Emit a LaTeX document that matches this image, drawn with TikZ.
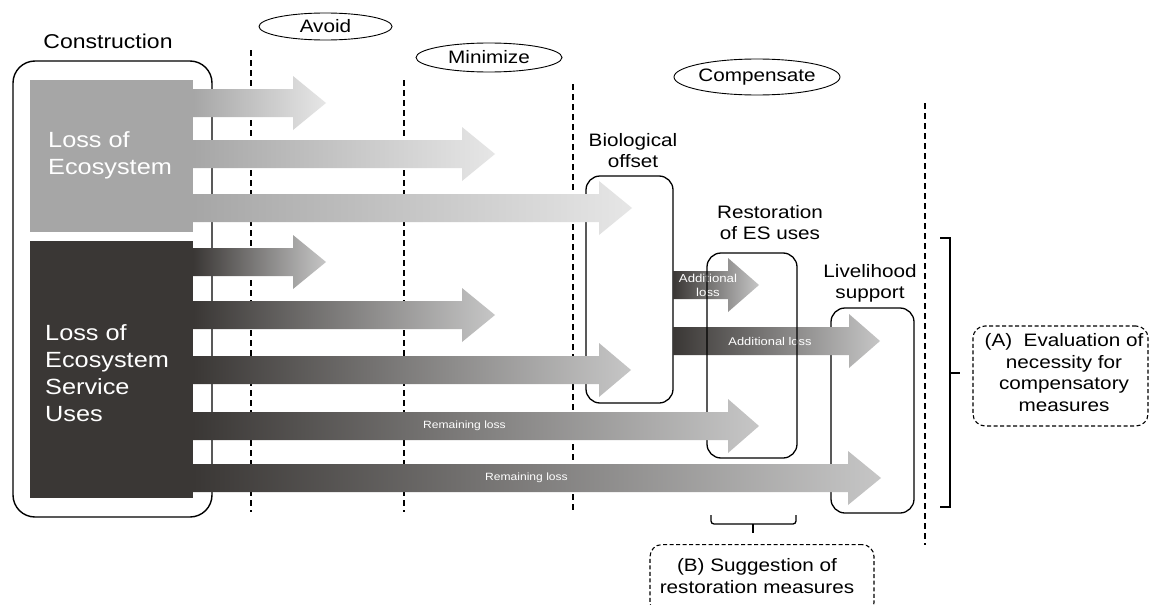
\documentclass[tikz,border=0pt]{standalone}
\usepackage{fontspec}
\setmainfont{Liberation Sans}[FakeStretch=1.15]
\usetikzlibrary{shapes.geometric}
\definecolor{lgray}{HTML}{A6A6A6}
\definecolor{lgrayend}{HTML}{E6E6E6}
\definecolor{dgray}{HTML}{3A3735}
\definecolor{dgrayend}{HTML}{C6C6C6}
\newcommand\flowarrow[5]{%
  \shade[#5] (#1,#4-14) -- (#2,#4-14) -- (#2,#4-27) -- (#3,#4) -- (#2,#4+27) -- (#2,#4+14) -- (#1,#4+14) -- cycle;}
\tikzset{
  lightarr/.style={left color=lgray, right color=lgrayend},
  darkarr/.style={left color=dgray, right color=dgrayend},
  lbl/.style={font=\fontsize{18}{21.5}\selectfont, align=center, inner sep=0pt},
  bigwhite/.style={font=\fontsize{22}{27}\selectfont, align=left, text=white, inner sep=0pt},
  smallwhite/.style={font=\fontsize{10.5}{13}\selectfont, align=center, text=white, inner sep=0pt},
  phase/.style={draw, ellipse, line width=0.9pt, inner sep=0pt, font=\fontsize{18}{21.5}\selectfont},
  rbox/.style={draw, line width=1.3pt, rounded corners=14pt},
  divider/.style={line width=1.5pt, dash pattern=on 6pt off 4pt},
  dbox/.style={draw, line width=1.1pt, dash pattern=on 4pt off 2.5pt, rounded corners=12pt},
  brack/.style={line width=1.3pt}
}
\begin{document}
\begin{tikzpicture}[x=1pt,y=-1pt]
\useasboundingbox (0,0) rectangle (1149,605);
\clip (0,0) rectangle (1149,605);
\fill[white] (0,0) rectangle (1149,605);

% construction frame
\draw[line width=1.4pt, rounded corners=22pt] (13,61) rectangle (212,517);
\node[font=\fontsize{20}{24}\selectfont, anchor=base, inner sep=0pt] (construction) at (108,48) {Construction};

% dashed dividers
\coordinate (d1t) at (251,50);  \coordinate (d1b) at (251,512);
\coordinate (d2t) at (404,80);  \coordinate (d2b) at (404,512);
\coordinate (d3t) at (573,84);  \coordinate (d3b) at (573,512);
\coordinate (d4t) at (925,103); \coordinate (d4b) at (925,545);
\draw[divider] (d1t) -- (d1b);
\draw[divider] (d2t) -- (d2b);
\draw[divider] (d3t) -- (d3b);
\draw[divider] (d4t) -- (d4b);

% phase labels
\node[phase, minimum width=133pt, minimum height=27pt] (avoid) at (325.5,26.5) {Avoid};
\node[phase, minimum width=146pt, minimum height=29pt] (minimize) at (489,57.5) {Minimize};
\node[phase, minimum width=144pt, minimum height=36pt] (compensate) at (757,77) {Compensate};

% loss blocks
\fill[lgray] (30,80) rectangle (193,232);
\fill[dgray] (30,241) rectangle (193,498);
\node[bigwhite, anchor=west] (lossEco) at (48,155) {Loss of\\Ecosystem};
\node[bigwhite, anchor=west] (lossES) at (45,373) {Loss of\\Ecosystem\\Service\\Uses};

% compensation boxes
\draw[rbox] (586,176) rectangle (673,403);
\node[lbl] (bio) at (633,150.5) {Biological\\offset};
\draw[rbox] (831,308) rectangle (914,513);
\node[lbl] (liv) at (870,283.4) {Livelihood\\support};

% additional loss arrows
\flowarrow{673}{728}{759}{285}{darkarr}
\node[smallwhite, font=\fontsize{11.5}{14}\selectfont] (add1) at (708,285) {Additional\\loss};
\flowarrow{673}{849}{880}{341}{darkarr}
\node[smallwhite, font=\fontsize{11.2}{13}\selectfont] (add2) at (770,341) {Additional loss};

\draw[rbox] (707,253) rectangle (797,458);
\node[lbl] (rest) at (770,222.5) {Restoration\\of ES uses};

% ecosystem loss arrows
\flowarrow{193}{293}{326}{103}{lightarr}
\flowarrow{193}{462}{495}{154}{lightarr}
\flowarrow{193}{599}{632}{208}{lightarr}
% ES use loss arrows
\flowarrow{193}{293}{326}{262}{darkarr}
\flowarrow{193}{462}{495}{315}{darkarr}
\flowarrow{193}{599}{631}{370}{darkarr}
\flowarrow{193}{728}{759}{426}{darkarr}
\node[smallwhite, anchor=west] (rem1) at (423,426) {Remaining loss};
\flowarrow{193}{848}{881}{478}{darkarr}
\node[smallwhite, anchor=west] (rem2) at (485,478) {Remaining loss};

% bracket A
\draw[brack] (940,238) -- (950,238) -- (950,507) -- (940,507);
\coordinate (bA) at (950,373);
\coordinate (bAr) at (960,373);
\draw[brack] (bA) -- (bAr);
\node[dbox, minimum width=175pt, minimum height=100pt] (boxA) at (1060.5,376) {};
\node[lbl] (txtA) at (1064,372.5) {(A)\ \ Evaluation of\\necessity for\\compensatory\\measures};

% brace B
\draw[brack, rounded corners=3pt] (711,515) -- (711,524) -- (796,524) -- (796,515);
\coordinate (bB) at (753,524);
\coordinate (bBd) at (753,533);
\draw[brack] (bB) -- (bBd);
\node[dbox, minimum width=224pt, minimum height=70pt, anchor=north] (boxB) at (762,544) {};
\node[lbl] (txtB) at (757,576) {(B) Suggestion of\\restoration measures};
\end{tikzpicture}
\end{document}
